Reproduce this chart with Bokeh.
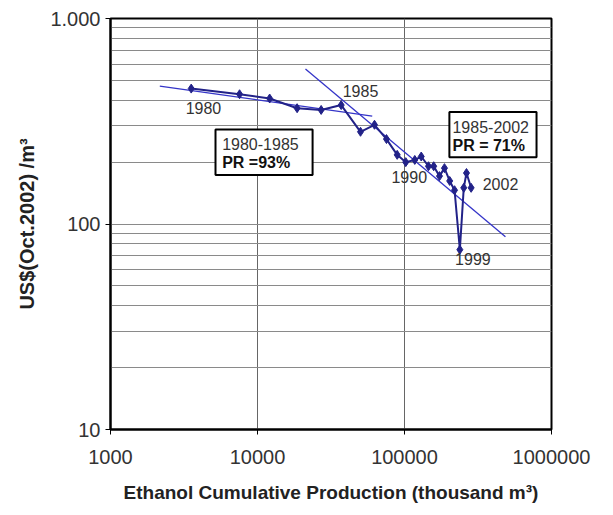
from bokeh.plotting import figure
from bokeh.models import Range1d, FixedTicker, ColumnDataSource
from bokeh.core.properties import value
from bokeh.embed import file_html
from bokeh.resources import INLINE

# Data: cumulative production (thousand m3) vs price (US$ Oct.2002 / m3)
years = list(range(1980, 2003))
cum_prod = [3540, 7550, 12100, 18600, 27100, 37100, 50200, 62500, 75400, 89200,
            102000, 117500, 130000, 145600, 158000, 173000, 187000, 203000, 219000,
            238000, 253000, 264000, 284000]
price = [456, 428, 408, 366, 359, 379, 281, 304, 259, 217,
         200, 205, 213, 191, 191, 171, 187, 162, 146,
         75, 150, 177, 150]

# Trend lines (end points)
trend1_x = [2165, 60300]
trend1_y = [469, 335]
trend2_x = [21200, 486000]
trend2_y = [568, 86.7]

# Year labels
lab_text = ["1980", "1985", "1990", "1999", "2002"]
lab_x = [4290, 50200, 107700, 292000, 450000]
lab_y = [367, 442, 170, 67.6, 156]

# Progress ratio boxes
box_left = [5180, 202000]
box_right = [23700, 791000]
box_top = [288, 351]
box_bottom = [173, 211]
box_line1 = ["1980-1985", "1985-2002"]
box_line2 = ["PR =93%", "PR = 71%"]
box_tx = [5750, 212000]
box_ty1 = [244, 298]
box_ty2 = [200, 241]

x_ticks = [1000, 10000, 100000, 1000000]
y_ticks = [10, 100, 1000]
y_minor = [20, 30, 40, 50, 60, 70, 80, 90, 200, 300, 400, 500, 600, 700, 800, 900]

FONT = "Liberation Sans"

p = figure(width=603, height=505, x_axis_type="log", y_axis_type="log",
           x_range=Range1d(1000, 1000000), y_range=Range1d(10, 1000),
           output_backend="svg", toolbar_location=None,
           min_border_left=110, min_border_right=52, min_border_top=18, min_border_bottom=69)
p.background_fill_color = "white"
p.border_fill_color = "white"
p.outline_line_color = "black"
p.outline_line_width = 2

p.xaxis.ticker = FixedTicker(ticks=x_ticks, minor_ticks=[])
p.yaxis.ticker = FixedTicker(ticks=y_ticks, minor_ticks=y_minor)
p.yaxis.major_label_overrides = {1000: "1.000", 100: "100", 10: "10"}
p.xaxis.major_label_overrides = {1000: "1000", 10000: "10000", 100000: "100000", 1000000: "1000000"}

for ax in (p.xaxis, p.yaxis):
    ax.axis_line_color = "black"
    ax.axis_line_width = 2
    ax.major_tick_line_color = "black"
    ax.major_tick_in = 0
    ax.major_tick_out = 5
    ax.minor_tick_line_color = "black"
    ax.minor_tick_in = 0
    ax.minor_tick_out = 0
    ax.major_label_text_font = FONT
    ax.major_label_text_font_size = "20px"
    ax.major_label_text_color = "#333333"
    ax.axis_label_text_font = FONT
    ax.axis_label_text_font_style = "bold"
    ax.axis_label_text_font_size = "19px"
    ax.axis_label_text_color = "#222222"

p.xaxis.axis_label = "Ethanol Cumulative Production (thousand m³)"
p.yaxis.axis_label = "US$(Oct.2002) /m³"
p.yaxis.axis_label_text_font_size = "20px"
p.xaxis.major_label_standoff = 15
p.xaxis.axis_label_standoff = 15
p.yaxis.major_label_standoff = 5
p.yaxis.axis_label_standoff = 9

p.xgrid.grid_line_color = "#666666"
p.xgrid.grid_line_width = 1
p.ygrid.grid_line_color = "#8a8a8a"
p.ygrid.minor_grid_line_color = "#8a8a8a"
p.ygrid.grid_line_width = 1
p.ygrid.minor_grid_line_width = 1

# trend lines
p.line(trend1_x, trend1_y, line_color="#3535c8", line_width=1.3)
p.line(trend2_x, trend2_y, line_color="#3535c8", line_width=1.3)

# data series
src = ColumnDataSource(dict(x=cum_prod, y=price, year=years))
p.line("x", "y", source=src, line_color="#222288", line_width=2)
p.scatter("x", "y", source=src, marker="diamond", size=9, fill_color="#222288",
          line_color="#222288")

# year labels
p.text(lab_x, lab_y, text=lab_text, text_font=value(FONT), text_font_size="16px",
       text_color="#333333", text_align="center", text_baseline="middle")

# boxes
p.quad(left=box_left, right=box_right, top=box_top, bottom=box_bottom,
       fill_color="white", line_color="black", line_width=2)
p.text(box_tx, box_ty1, text=box_line1, text_font=value(FONT), text_font_size="16px",
       text_color="#333333", text_align="left", text_baseline="middle")
p.text(box_tx, box_ty2, text=box_line2, text_font=value(FONT), text_font_size="16px",
       text_font_style="bold", text_color="#111111", text_align="left", text_baseline="middle")

open("out.html", "w").write(file_html(p, INLINE))
